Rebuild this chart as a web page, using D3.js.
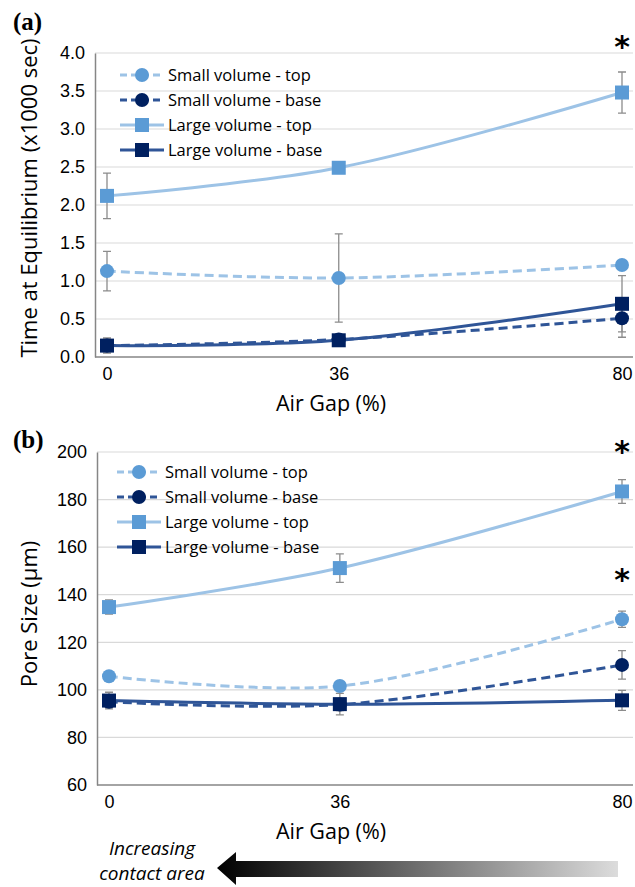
<!DOCTYPE html>
<meta charset="utf-8">
<style>
body { margin: 0; background: #fff; }
svg { display: block; font-family: "Open Sans", sans-serif; }
.grid line { stroke: #d9d9d9; stroke-width: 1.2px; }
.tick text { fill: #000; }
.err { stroke: #8c8c8c; stroke-width: 1.3px; }
</style>
<svg width="635" height="887"></svg>
<script src="https://d3js.org/d3.v7.min.js"></script>
<script>

var airGap = [0, 36, 80];
var seriesNames = ["Small volume - top", "Small volume - base", "Large volume - top", "Large volume - base"];

// (a) time at equilibrium, x1000 sec
var timeSmallTop = [1.13, 1.04, 1.21];
var timeSmallTopErr = [0.26, 0.58, 0.02];
var timeSmallBase = [0.15, 0.23, 0.51];
var timeSmallBaseErr = [0.08, 0.03, 0.25];
var timeLargeTop = [2.12, 2.49, 3.48];
var timeLargeTopErr = [0.30, 0.05, 0.27];
var timeLargeBase = [0.15, 0.22, 0.70];
var timeLargeBaseErr = [0.10, 0.03, 0.37];
var timeTicks = [0, 0.5, 1, 1.5, 2, 2.5, 3, 3.5, 4];

// (b) pore size, um
var poreSmallTop = [105.7, 101.6, 129.7];
var poreSmallTopErr = [1.0, 1.0, 3.4];
var poreSmallBase = [95.0, 93.8, 110.5];
var poreSmallBaseErr = [2.5, 2.5, 6.0];
var poreLargeTop = [134.8, 151.2, 183.4];
var poreLargeTopErr = [3.0, 6.0, 5.0];
var poreLargeBase = [95.5, 94.0, 95.6];
var poreLargeBaseErr = [3.5, 4.5, 4.2];
var poreTicks = [60, 80, 100, 120, 140, 160, 180, 200];

var styles = [
  {line: "#9dc3e6", mark: "#5b9bd5", dash: "9,5", shape: "circle"},
  {line: "#2f5597", mark: "#002060", dash: "9,5", shape: "circle"},
  {line: "#9dc3e6", mark: "#5b9bd5", dash: null, shape: "square"},
  {line: "#2f5597", mark: "#002060", dash: null, shape: "square"}
];

var svg = d3.select("svg");

function drawPanel(o) {
  var x = d3.scaleLinear().domain([0, 80]).range([o.x0, o.x1]);
  var y = d3.scaleLinear().domain(o.domain).range([o.yb, o.yt]);
  var g = svg.append("g");

  g.append("g").attr("class", "grid")
    .selectAll("line").data(o.ticks.slice(1)).enter().append("line")
      .attr("x1", o.left).attr("x2", 633)
      .attr("y1", function(d) { return y(d); })
      .attr("y2", function(d) { return y(d); });

  var ya = g.append("g")
      .attr("transform", "translate(" + o.left + ",0)")
      .call(d3.axisLeft(y).tickValues(o.ticks).tickFormat(o.fmt).tickSize(0).tickPadding(10));
  ya.select(".domain").attr("stroke", "#868686").attr("stroke-width", 1.5);
  ya.selectAll("text").style("font-size", "18px");

  var xa = g.append("g")
      .attr("transform", "translate(0," + o.yb + ")")
      .call(d3.axisBottom(x).tickValues(airGap).tickSize(0).tickPadding(10));
  xa.select(".domain").attr("d", "M" + o.left + ",0H633").attr("stroke", "#868686").attr("stroke-width", 1.5);
  xa.selectAll("text").style("font-size", "18px");

  g.append("text")
    .attr("x", 331).attr("y", o.yb + 54)
    .attr("text-anchor", "middle").style("font-size", "21.5px")
    .text("Air Gap (%)");

  g.append("text")
    .attr("transform", "translate(37," + o.ymid + ") rotate(-90)")
    .attr("text-anchor", "middle").style("font-size", "22px")
    .text(o.ylabel);

  g.append("text")
    .attr("x", 13).attr("y", o.tagY)
    .style("font-family", "'Liberation Serif', serif")
    .style("font-weight", "bold").style("font-size", "25px")
    .text(o.tag);

  var line = d3.line()
      .x(function(d, i) { return x(airGap[i]); })
      .y(function(d) { return y(d); })
      .curve(d3.curveCatmullRom.alpha(0.5));

  o.series.forEach(function(s, k) {
    var st = styles[k];
    g.append("path")
      .attr("d", line(s.v))
      .attr("fill", "none")
      .attr("stroke", st.line)
      .attr("stroke-width", 3)
      .attr("stroke-dasharray", st.dash);
  });

  o.series.forEach(function(s, k) {
    g.append("g").attr("class", "err")
      .selectAll("g").data(s.v).enter().append("path")
        .attr("fill", "none")
        .attr("d", function(d, i) {
          var cx = x(airGap[i]), t = y(d + s.e[i]), b = y(d - s.e[i]);
          return "M" + cx + "," + t + "V" + b + "M" + (cx - 4) + "," + t + "h8M" + (cx - 4) + "," + b + "h8";
        });
  });

  o.series.forEach(function(s, k) {
    var st = styles[k];
    var mg = g.append("g");
    if (st.shape === "circle") {
      mg.selectAll("circle").data(s.v).enter().append("circle")
        .attr("cx", function(d, i) { return x(airGap[i]); })
        .attr("cy", function(d) { return y(d); })
        .attr("r", 7).attr("fill", st.mark);
    } else {
      mg.selectAll("rect").data(s.v).enter().append("rect")
        .attr("x", function(d, i) { return x(airGap[i]) - 7; })
        .attr("y", function(d) { return y(d) - 7; })
        .attr("width", 14).attr("height", 14).attr("fill", st.mark);
    }
  });

  // legend
  var lg = g.append("g");
  seriesNames.forEach(function(name, k) {
    var st = styles[k], ly = o.legY + k * 25;
    lg.append("line")
      .attr("x1", o.legX).attr("x2", o.legX + 44)
      .attr("y1", ly).attr("y2", ly)
      .attr("stroke", st.line).attr("stroke-width", 3)
      .attr("stroke-dasharray", st.dash ? "7,4" : null);
    if (st.shape === "circle") {
      lg.append("circle").attr("cx", o.legX + 22).attr("cy", ly).attr("r", 7).attr("fill", st.mark);
    } else {
      lg.append("rect").attr("x", o.legX + 15).attr("y", ly - 7).attr("width", 14).attr("height", 14).attr("fill", st.mark);
    }
    lg.append("text")
      .attr("x", o.legX + 48).attr("y", ly + 6)
      .style("font-size", "16.5px")
      .text(name);
  });

  o.stars.forEach(function(v) {
    g.append("text")
      .attr("x", x(80)).attr("y", y(v))
      .attr("text-anchor", "middle")
      .style("font-size", "30px").style("font-weight", "bold")
      .style("font-family", "'DejaVu Sans', sans-serif")
      .text("*");
  });
}

drawPanel({
  x0: 107, x1: 622, left: 95, yb: 357, yt: 53, ymid: 198,
  domain: [0, 4], ticks: timeTicks, fmt: d3.format(".1f"),
  ylabel: "Time at Equilibrium (x1000 sec)", tag: "(a)", tagY: 30,
  legX: 120, legY: 75, stars: [3.95],
  series: [
    {v: timeSmallTop, e: timeSmallTopErr},
    {v: timeSmallBase, e: timeSmallBaseErr},
    {v: timeLargeTop, e: timeLargeTopErr},
    {v: timeLargeBase, e: timeLargeBaseErr}
  ]
});

drawPanel({
  x0: 109, x1: 622, left: 97, yb: 785, yt: 452, ymid: 614,
  domain: [60, 200], ticks: poreTicks, fmt: d3.format("d"),
  ylabel: "Pore Size (\u00b5m)", tag: "(b)", tagY: 448,
  legX: 117, legY: 472, stars: [196, 142],
  series: [
    {v: poreSmallTop, e: poreSmallTopErr},
    {v: poreSmallBase, e: poreSmallBaseErr},
    {v: poreLargeTop, e: poreLargeTopErr},
    {v: poreLargeBase, e: poreLargeBaseErr}
  ]
});

// arrow: increasing contact area
var defs = svg.append("defs");
var grad = defs.append("linearGradient").attr("id", "arrowGrad");
grad.append("stop").attr("offset", "0%").attr("stop-color", "#000");
grad.append("stop").attr("offset", "100%").attr("stop-color", "#dcdcdc");

svg.append("path")
  .attr("d", "M217,868L236,852V861H618V877H236V885Z")
  .attr("fill", "url(#arrowGrad)");

svg.append("text")
  .attr("text-anchor", "middle")
  .style("font-style", "italic").style("font-size", "19px")
  .selectAll("tspan").data(["Increasing", "contact area"]).enter().append("tspan")
    .attr("x", 152)
    .attr("y", function(d, i) { return 855 + i * 25; })
    .text(function(d) { return d; });

</script>
